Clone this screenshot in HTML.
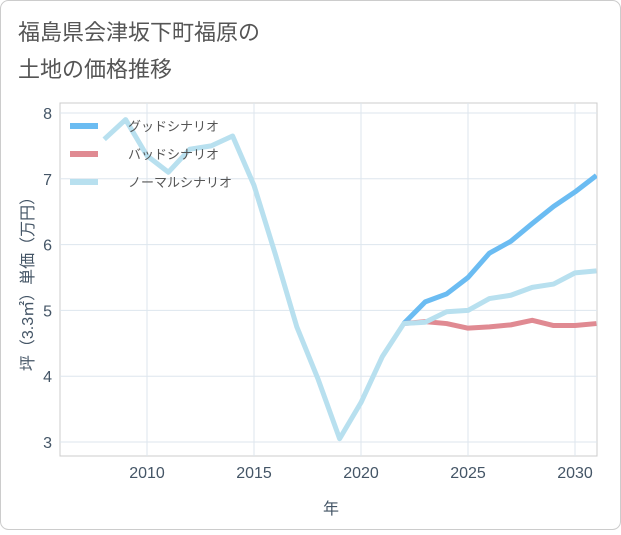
<!DOCTYPE html><html><head><meta charset="utf-8"><style>body{margin:0;background:#fff}svg{font-family:"Liberation Sans","Noto Sans CJK JP",sans-serif}</style></head><body>
<svg id="c" width="621" height="530">
<rect x="0.5" y="0.5" width="620" height="529" rx="8" fill="#fff" stroke="#ccc"/>
<text x="18" y="40" font-size="22" fill="#555">福島県会津坂下町福原の</text>
<text x="18" y="77" font-size="22" fill="#555">土地の価格推移</text>
<g id="plot"></g>
</svg>
<script>
const years=[2008,2009,2010,2011,2012,2013,2014,2015,2016,2017,2018,2019,2020,2021,2022,2023,2024,2025,2026,2027,2028,2029,2030,2031];
const normal=[7.6,7.9,7.35,7.1,7.45,7.5,7.65,6.9,5.85,4.75,3.95,3.05,3.6,4.3,4.8,4.82,4.98,5.0,5.18,5.23,5.35,5.4,5.57,5.6];
const futYears=[2022,2023,2024,2025,2026,2027,2028,2029,2030,2031];
const good=[4.8,5.13,5.25,5.5,5.87,6.05,6.32,6.58,6.8,7.05];
const bad=[4.8,4.83,4.8,4.73,4.75,4.78,4.85,4.77,4.77,4.8];
const xTicks=[2010,2015,2020,2025,2030];
const yTicks=[3,4,5,6,7,8];
const X=y=>147+(y-2010)*21.4, Y=v=>113+(8-v)*65.8;
const g=document.getElementById('plot'),NS='http://www.w3.org/2000/svg';
function el(t,a,p){const e=document.createElementNS(NS,t);for(const k in a)e.setAttribute(k,a[k]);(p||g).appendChild(e);return e;}
el('rect',{x:60,y:103,width:537,height:353,fill:'none',stroke:'#ccc'});
xTicks.forEach(t=>{const l=el('line',{x1:X(t),x2:X(t),y1:103,y2:456,stroke:'#dde6ee'});
const tx=el('text',{x:X(t),y:478,'text-anchor':'middle','font-size':16,fill:'#456'});tx.textContent=t;});
yTicks.forEach(t=>{const l=el('line',{x1:60,x2:597,y1:Y(t),y2:Y(t),stroke:'#dde6ee'});
const tx=el('text',{x:52,y:Y(t)+6,'text-anchor':'end','font-size':16,fill:'#456'});tx.textContent=t;});
const xt=el('text',{x:331,y:514,'text-anchor':'middle','font-size':16,fill:'#456'});xt.textContent='年';
const yt=el('text',{x:0,y:0,transform:'translate(33,280) rotate(-90)','text-anchor':'middle','font-size':16,fill:'#456'});yt.textContent='坪（3.3㎡）単価（万円）';
const cp=el('clipPath',{id:'cl'});el('rect',{x:60,y:103,width:537,height:353},cp);
function line(xs,vs,c,n){const p=el('path',{d:xs.map((x,i)=>(i?'L':'M')+X(x)+','+Y(vs[i])).join(''),fill:'none',stroke:c,'stroke-width':5,'stroke-linejoin':'round','clip-path':'url(#cl)'});}
line(futYears,good,'#6bbcf2','good-scenario-line');
line(futYears,bad,'#e08a92','bad-scenario-line');
line(years,normal,'#b8e0ef','normal-scenario-line');
[['グッドシナリオ','#6bbcf2',126],['バッドシナリオ','#e08a92',154],['ノーマルシナリオ','#b8e0ef',182]].forEach(([t,c,y])=>{
const l=el('line',{x1:70,x2:98,y1:y,y2:y,stroke:c,'stroke-width':6});
const tx=el('text',{x:128,y:y+5,'font-size':13,fill:'#555'});tx.textContent=t;});
</script></body></html>
